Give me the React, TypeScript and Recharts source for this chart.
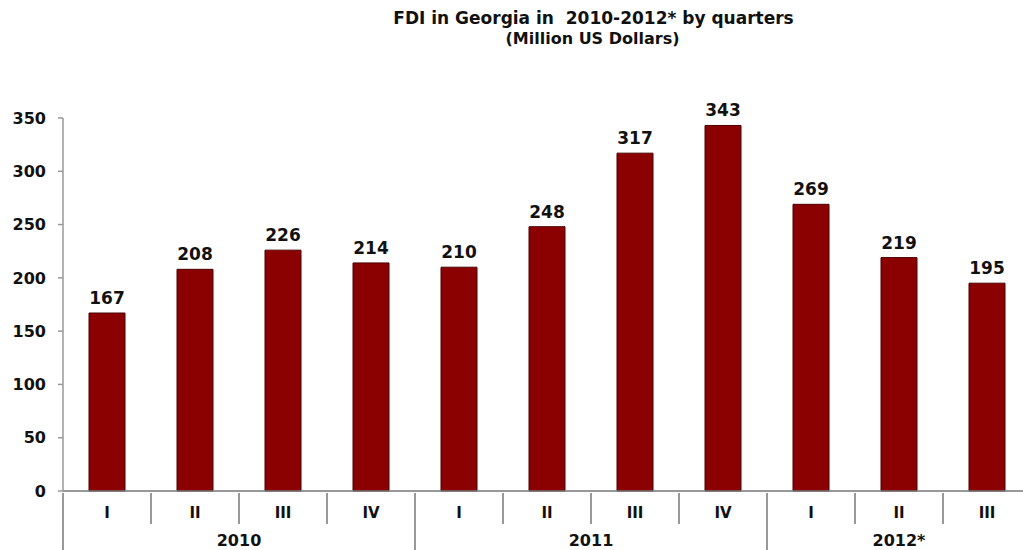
import React from "react";
import { BarChart, Bar, XAxis, YAxis, LabelList } from "recharts";

const quarters = ["I", "II", "III", "IV", "I", "II", "III", "IV", "I", "II", "III"];
const values = [167, 208, 226, 214, 210, 248, 317, 343, 269, 219, 195];
const years = ["2010", "2011", "2012*"];
const yearStart = [0, 4, 8];
const yearLen = [4, 4, 3];
const yTicks = [0, 50, 100, 150, 200, 250, 300, 350];

const data = quarters.map((q, i) => ({ q, v: values[i], idx: i }));

const FONT = "'DejaVu Sans', sans-serif";

const QuarterTick = (props: any) => {
  const { x, y, payload, width, index } = props;
  const n = quarters.length;
  const bw = width / n;
  const i = payload.index ?? index;
  const left = x - bw / 2;
  const base = y - 6;
  const yi = yearStart.indexOf(i);
  const isYearStart = yi >= 0;
  const els: any[] = [];
  els.push(
    <line key="sep" x1={left} x2={left} y1={base} y2={isYearStart ? base + 62 : base + 31} stroke="#777" strokeWidth={1.5} />
  );
  els.push(
    <text key="lbl" x={x} y={base + 25} textAnchor="middle" fontFamily={FONT} fontWeight="bold" fontSize={15} fill="#111">
      {quarters[i]}
    </text>
  );
  if (isYearStart) {
    const cx = left + (yearLen[yi] * bw) / 2;
    els.push(
      <text key="yr" x={cx} y={base + 53} textAnchor="middle" fontFamily={FONT} fontWeight="bold" fontSize={16} fill="#111">
        {years[yi]}
      </text>
    );
  }
  return <g>{els}</g>;
};

export default function App() {
  return (
    <div style={{ position: "absolute", left: 0, top: 0, width: 1023, height: 550, overflow: "hidden", background: "#fff" }}>
      <div style={{ position: "absolute", left: 0, top: 8, width: 1187, textAlign: "center", fontFamily: FONT, fontWeight: "bold", fontSize: 17, color: "#111", lineHeight: "20px", whiteSpace: "pre" }}>
        {"FDI in Georgia in  2010-2012* by quarters"}
      </div>
      <div style={{ position: "absolute", left: 0, top: 29, width: 1185, textAlign: "center", fontFamily: FONT, fontWeight: "bold", fontSize: 16, color: "#111", lineHeight: "20px" }}>
        (Million US Dollars)
      </div>
      <div style={{ position: "absolute", left: 0, top: 0 }}>
        <BarChart width={1040} height={550} data={data} margin={{ top: 118, right: 9, bottom: 0, left: 0 }} barCategoryGap={26}>
          <XAxis
            dataKey="idx"
            height={59}
            interval={0}
            tickLine={false}
            axisLine={{ stroke: "#777", strokeWidth: 1.5 }}
            tick={<QuarterTick />}
          />
          <YAxis
            width={63}
            domain={[0, 350]}
            ticks={yTicks}
            interval={0}
            axisLine={{ stroke: "#999", strokeWidth: 1.5 }}
            tickLine={{ stroke: "#999", strokeWidth: 1.5 }}
            tickSize={5}
            tick={{ fontFamily: FONT, fontWeight: "bold", fontSize: 16, fill: "#111" }}
            tickMargin={12}
          />
          <Bar dataKey="v" fill="#8B0000" stroke="#4a0000" strokeWidth={1} isAnimationActive={false}>
            <LabelList dataKey="v" position="top" offset={9} style={{ fontFamily: FONT, fontWeight: "bold", fontSize: 17, fill: "#111" }} />
          </Bar>
        </BarChart>
      </div>
    </div>
  );
}
